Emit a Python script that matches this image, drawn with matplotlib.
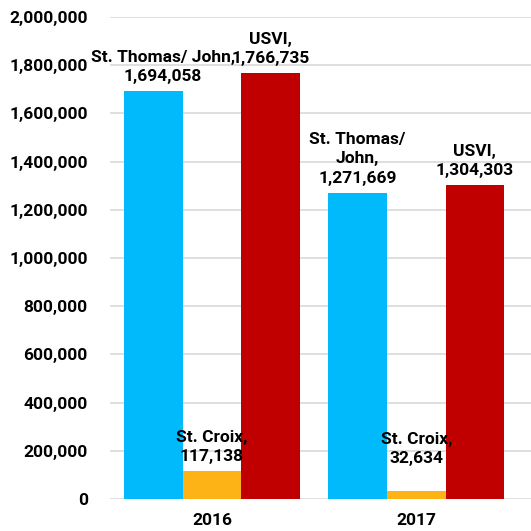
import matplotlib.pyplot as plt
import numpy as np

years = ['2016', '2017']
series = ['St. Thomas/ John', 'St. Croix', 'USVI']
st_thomas = [1694058, 1271669]
st_croix = [117138, 32634]
usvi = [1766735, 1304303]
colors = ['#00BAFB', '#FDB316', '#C00000']

plt.rcParams['font.family'] = ['Roboto', 'DejaVu Sans']
plt.rcParams['font.weight'] = 'bold'

fig = plt.figure(figsize=(5.31, 5.31), dpi=100)
ax = fig.add_axes([0.207, 0.06, 0.80, 0.908])

x = np.arange(len(years))
w = 0.287
values = [st_thomas, st_croix, usvi]
# label text per bar (excel-style wrapping), offsets in points above bar top
label_text = {
    (0, 0): 'St. Thomas/ John,\n1,694,058',
    (0, 1): 'St. Thomas/\nJohn,\n1,271,669',
    (1, 0): 'St. Croix,\n117,138',
    (1, 1): 'St. Croix,\n32,634',
    (2, 0): 'USVI,\n1,766,735',
    (2, 1): 'USVI,\n1,304,303',
}
label_dx = {(0, 0): 7, (1, 1): 0}
label_dy = {(1, 1): 13}

for i, vals in enumerate(values):
    pos = x + (i - 1) * w
    ax.bar(pos, vals, width=w, color=colors[i], zorder=3)
    for j, v in enumerate(vals):
        ax.annotate(label_text[(i, j)], (pos[j], v),
                    xytext=(label_dx.get((i, j), 0), 5 + label_dy.get((i, j), 0)),
                    textcoords='offset points', ha='center', va='bottom',
                    fontsize=12.5, fontweight='bold', linespacing=1.35,
                    zorder=4)

ax.set_ylim(0, 2000000)
ax.set_xlim(-0.5, 1.58)
ax.set_yticks(range(0, 2000001, 200000))
ax.set_yticklabels([f'{v:,}' for v in range(0, 2000001, 200000)])
ax.set_xticks(x)
ax.set_xticklabels(years)
ax.tick_params(axis='both', length=0, labelsize=12.5)
ax.tick_params(axis='y', pad=16)
ax.tick_params(axis='x', pad=10)
for lab in ax.get_xticklabels() + ax.get_yticklabels():
    lab.set_fontweight('bold')
ax.grid(axis='y', color='#d9d9d9', linewidth=1.2, zorder=0)
for s in ax.spines.values():
    s.set_visible(False)

fig.savefig('out.png', dpi=100)
